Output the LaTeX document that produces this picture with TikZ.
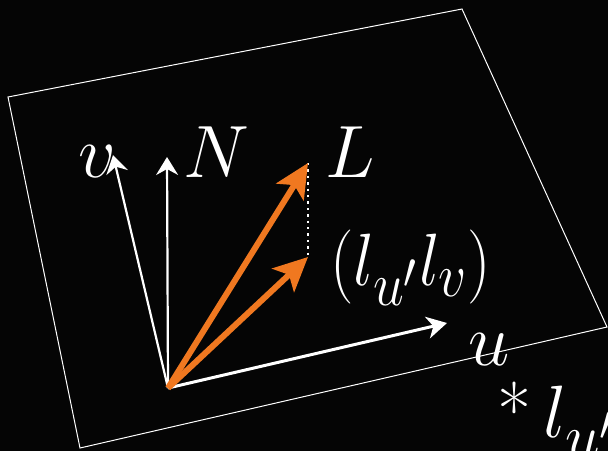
\documentclass[tikz,border=0pt]{standalone}
\usepackage{graphicx}
\usepackage{tikz}
\usetikzlibrary{arrows.meta}
\definecolor{SHorange}{HTML}{F07820}
\definecolor{SHback}{HTML}{050505}
\newcommand{\biglbl}[1]{\scalebox{1.49}{\Huge #1}}

\begin{document}
\begin{tikzpicture}[x=0.5pt,y=-0.5pt,
    lbl/.style={text=white, inner sep=0pt, anchor=base west},
    thinvec/.style={draw=white, line width=1.1pt, -{Stealth[length=9pt,width=11pt,inset=3pt]}},
    uvec/.style={draw=white, line width=1.5pt, -{Stealth[length=10pt,width=11pt,inset=3pt]}},
    lightvec/.style={draw=SHorange, line width=3pt, -{Stealth[length=17pt,width=16pt,inset=4pt]}}]
  \fill[SHback] (0,0) rectangle (608,451);
  \useasboundingbox (0,0) rectangle (608,451);
  % tangent plane
  \coordinate (p1) at (8,97);
  \coordinate (p2) at (462,9);
  \coordinate (p3) at (607,327);
  \coordinate (p4) at (80,448);
  \draw[white, line width=0.5pt] (p1) -- (p2) -- (p3) -- (p4) -- cycle;
  % vectors
  \coordinate (o) at (168,388);
  \coordinate (vtip) at (113,155);
  \coordinate (ntip) at (167,157);
  \coordinate (utip) at (447,323);
  \coordinate (ltip) at (308,163);
  \coordinate (ptip) at (308,257);
  \draw[thinvec] (o) -- (vtip);
  \draw[thinvec] (o) -- (ntip);
  \draw[uvec] (o) -- (utip);
  \draw[white, line width=1.2pt, dotted] (ltip) -- (ptip);
  \draw[lightvec] (o) -- (ltip);
  \draw[lightvec] (o) -- (ptip);
  % labels
  \node[lbl] (vlab) at (78,177) {\biglbl{$v$}};
  \node[lbl] (nlab) at (183,177) {\biglbl{$N$}};
  \node[lbl] (llab) at (325,177) {\biglbl{$L$}};
  \node[lbl] (plab) at (330,285) {\scalebox{1.33}[1.49]{\Huge $(l_{u'}l_v)$}};
  \node[lbl] (ulab) at (468,365) {\biglbl{$u$}};
  \node[lbl] (slab) at (497,437) {\biglbl{*\,$l_{u'}$}};
\end{tikzpicture}
\end{document}
